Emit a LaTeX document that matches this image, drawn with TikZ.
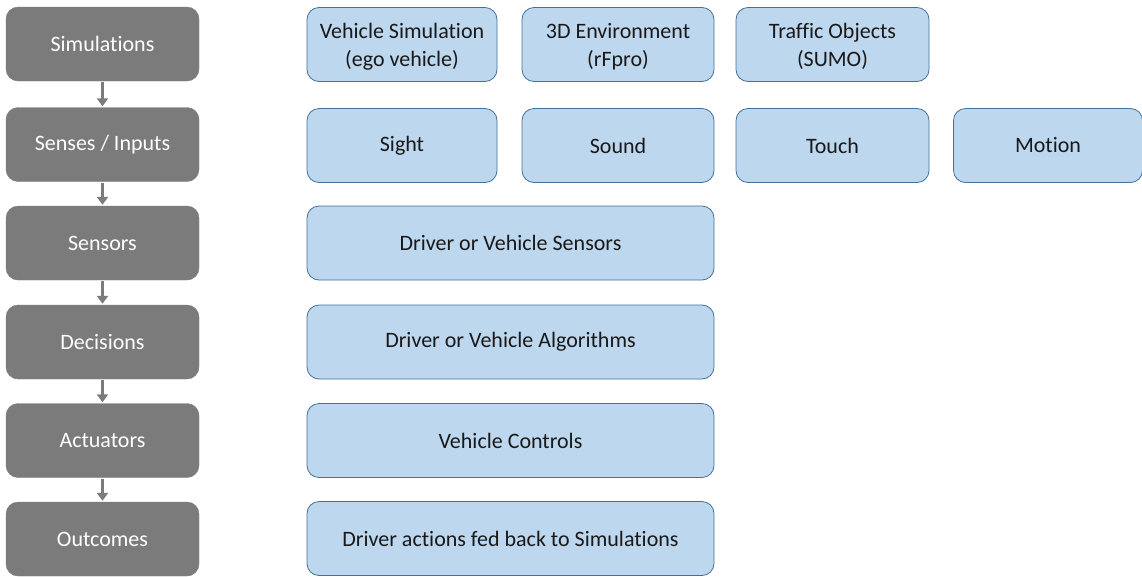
\documentclass[tikz,border=0pt]{standalone}
\usepackage{fontspec}
\setmainfont[Ligatures=NoCommon]{Carlito}
\usetikzlibrary{arrows.meta}
\definecolor{stagegrey}{HTML}{7B7B7B}
\definecolor{itemfill}{HTML}{BDD7EE}
\definecolor{itemline}{HTML}{41719C}
\newcommand{\twolines}[2]{\raisebox{-2.5pt}[\height][\depth]{\begin{tabular}{@{}c@{}}#1\\#2\end{tabular}}}
\begin{document}
\begin{tikzpicture}[x=1pt,y=-1pt,
  stagebox/.style={rectangle, rounded corners=12pt, fill=stagegrey, draw=stagegrey, text=white,
    minimum width=193pt, minimum height=74pt, font=\fontsize{22}{28}\selectfont, inner sep=0pt},
  itembox/.style={rectangle, rounded corners=12pt, fill=itemfill, draw=itemline, line width=0.8pt, text=black!90,
    minimum height=74pt, font=\fontsize{22}{28}\selectfont, inner sep=0pt, align=center},
  smallitem/.style={itembox, minimum width=190pt},
  wideitem/.style={itembox, minimum width=407pt},
  flow/.style={draw=stagegrey, line width=3pt, -{Triangle[width=11pt,length=8pt]}, shorten >=1pt, shorten <=1pt}]
\useasboundingbox (0,0) rectangle (1142,576);
% stage boxes
\node[stagebox] (s1) at (102.5,44) {Simulations};
\node[stagebox] (s2) at (102.5,144.5) {Senses / Inputs};
\node[stagebox] (s3) at (102.5,243) {Sensors};
\node[stagebox] (s4) at (102.5,342) {Decisions};
\node[stagebox] (s5) at (102.5,440.5) {Actuators};
\node[stagebox] (s6) at (102.5,539) {Outcomes};
\foreach \a/\b in {s1/s2,s2/s3,s3/s4,s4/s5,s5/s6}
  \draw[flow] (\a.south) -- (\b.north);
% row 1
\node[smallitem] (v1) at (402,44.5) {\twolines{Vehicle Simulation}{(ego vehicle)}};
\node[smallitem, minimum width=192pt] (v2) at (618,44.5) {\twolines{3D Environment}{(rFpro)}};
\node[smallitem, minimum width=193pt] (v3) at (832.5,44.5) {\twolines{Traffic Objects}{(SUMO)}};
% row 2
\node[smallitem] (i1) at (402,145.5) {Sight};
\node[smallitem, minimum width=192pt] (i2) at (618,145.5) {Sound};
\node[smallitem, minimum width=193pt] (i3) at (832.5,145.5) {Touch};
\node[smallitem, minimum width=189pt] (i4) at (1048,145.5) {Motion};
% rows 3-6
\node[wideitem] (w3) at (510.5,243) {Driver or Vehicle Sensors};
\node[wideitem] (w4) at (510.5,342) {Driver or Vehicle Algorithms};
\node[wideitem] (w5) at (510.5,440.5) {Vehicle Controls};
\node[wideitem] (w6) at (510.5,538.5) {Driver actions fed back to Simulations};
\end{tikzpicture}
\end{document}
